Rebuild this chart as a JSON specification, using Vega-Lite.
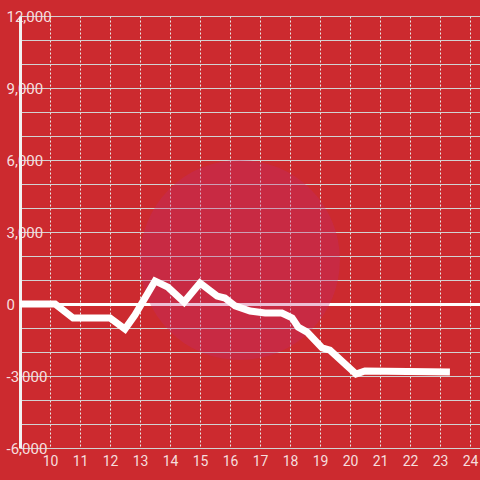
{
  "$schema": "https://vega.github.io/schema/vega-lite/v6.json",
  "width": 460,
  "height": 432,
  "autosize": {"type": "none"},
  "padding": {"left": 20, "top": 16, "right": 0, "bottom": 32},
  "background": "#cc2a2f",
  "config": {"view": {"stroke": null}, "font": "Roboto"},
  "datasets": {
    "pnl": [
      {"h": 9.0, "v": 0},
      {"h": 10.17, "v": 0},
      {"h": 10.77, "v": -580},
      {"h": 12.0, "v": -580},
      {"h": 12.5, "v": -1040},
      {"h": 12.83, "v": -460},
      {"h": 13.5, "v": 960},
      {"h": 13.93, "v": 700},
      {"h": 14.47, "v": 80},
      {"h": 15.0, "v": 875},
      {"h": 15.57, "v": 330},
      {"h": 15.83, "v": 250},
      {"h": 16.17, "v": -80},
      {"h": 16.67, "v": -290},
      {"h": 17.17, "v": -375},
      {"h": 17.73, "v": -375},
      {"h": 18.07, "v": -580},
      {"h": 18.27, "v": -960},
      {"h": 18.57, "v": -1170},
      {"h": 19.07, "v": -1830},
      {"h": 19.33, "v": -1920},
      {"h": 20.2, "v": -2920},
      {"h": 20.5, "v": -2790},
      {"h": 23.33, "v": -2830}
    ],
    "mark": [{"h": 16.33, "v": 1833}]
  },
  "encoding": {
    "x": {"field": "h", "type": "quantitative", "scale": {"domain": [9, 24.333], "nice": false, "zero": false},
      "axis": {"values": [10, 11, 12, 13, 14, 15, 16, 17, 18, 19, 20, 21, 22, 23, 24], "grid": true, "gridDash": [2, 2], "gridColor": "#e8e8e8", "gridWidth": 1, "ticks": false, "domain": false, "labelPadding": 6, "labelFontSize": 14, "labelColor": "#f6dede", "labelFlush": false, "labelOverlap": false, "title": null}},
    "y": {"field": "v", "type": "quantitative", "scale": {"domain": [-6000, 12000], "nice": false, "zero": false},
      "axis": {"values": [-6000, -5000, -4000, -3000, -2000, -1000, 0, 1000, 2000, 3000, 4000, 5000, 6000, 7000, 8000, 9000, 10000, 11000, 12000], "labelExpr": "datum.value % 3000 === 0 ? replace(format(datum.value, ','), '\u2212', '-') : ''", "grid": true, "gridColor": {"condition": {"test": "datum.value === 0", "value": "#ffffff"}, "value": "#d2d2d2"}, "gridWidth": {"condition": {"test": "datum.value === 0", "value": 3}, "value": 1}, "ticks": false, "domain": true, "domainColor": "#f2f2f2", "domainWidth": 3, "labelAlign": "left", "labelBaseline": "middle", "labelPadding": 14, "labelFontSize": 15, "labelColor": "#f6dede", "labelOverlap": false, "title": null}}
  },
  "layer": [
    {
      "data": {"name": "mark"},
      "mark": {"type": "point", "filled": true, "shape": "circle", "size": 40000, "color": "#bf2c75", "opacity": 0.3}
    },
    {
      "data": {"name": "pnl"},
      "mark": {"type": "line", "color": "#ffffff", "strokeWidth": 7}
    }
  ]
}
